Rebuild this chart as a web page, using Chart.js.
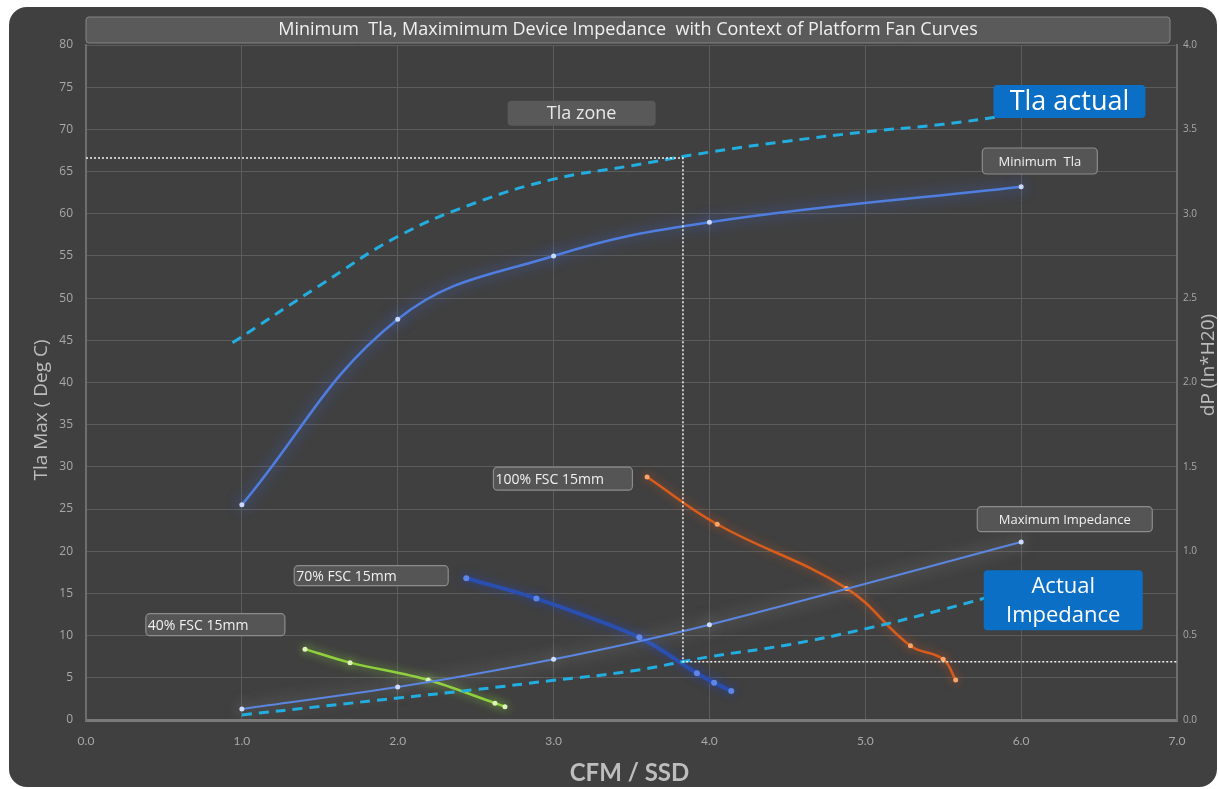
<!DOCTYPE html>
<html lang="en">
  <head>
    <meta charset="UTF-8" />
    <title>Minimum Tla, Maximum Device Impedance</title>
    <script src="https://cdn.jsdelivr.net/npm/chart.js@4.4.0/dist/chart.umd.min.js"></script>
    <style>
      html, body {
        margin: 0;
        padding: 0;
        background: #ffffff;
        overflow: hidden;
      }
      canvas {
        display: block;
      }
    </style>
  </head>
  <body>
    <canvas id="fanChart" width="1219" height="789"></canvas>
    <script>
      // --- data (x = CFM / SSD) ---
      const minTlaX = [1, 2, 3, 4, 6];
      const minTlaY = [25.5, 47.5, 55.0, 59.0, 63.2]; // deg C

      const tlaActualX = [0.94, 1.5, 2.0, 2.5, 3.0, 3.5, 4.0, 4.5, 5.0, 5.5, 5.9];
      const tlaActualY = [44.7, 51.5, 57.3, 61.3, 64.1, 65.7, 67.3, 68.6, 69.7, 70.6, 71.6];

      const maxImpX = [1, 2, 3, 4, 6];
      const maxImpY = [0.065, 0.195, 0.36, 0.565, 1.055]; // in H2O

      const actImpX = [1.0, 1.5, 2.0, 2.5, 3.0, 3.5, 4.0, 4.5, 5.0, 5.5, 5.95];
      const actImpY = [0.03, 0.08, 0.13, 0.18, 0.235, 0.29, 0.375, 0.445, 0.54, 0.655, 0.77];

      const fan100X = [3.60, 4.05, 4.88, 5.29, 5.50, 5.58];
      const fan100Y = [1.44, 1.16, 0.78, 0.44, 0.36, 0.237];

      const fan70X = [2.44, 2.89, 3.55, 3.92, 4.03, 4.14];
      const fan70Y = [0.84, 0.72, 0.49, 0.277, 0.221, 0.172];

      const fan40X = [1.405, 1.694, 2.196, 2.624, 2.688];
      const fan40Y = [0.42, 0.34, 0.237, 0.10, 0.079];

      // Tla zone boundary (dotted white)
      const zoneX = [0, 3.83, 3.83, 7];
      const zoneY = [66.6, 66.6, 6.9, 6.9];

      const xTicks = [0, 1, 2, 3, 4, 5, 6, 7];
      const chartTitle = "Minimum  Tla, Maximimum Device Impedance  with Context of Platform Fan Curves";

      const pts = (xs, ys) => xs.map((x, i) => ({ x: x, y: ys[i] }));

      const sans = "'Open Sans', 'Noto Sans', sans-serif";
      const lato = "Lato, 'Open Sans', sans-serif";

      // callout boxes, anchored in data units (left axis)
      const callouts = [
        { text: ["Tla zone"], x: 3.18, y: 71.9, w: 148, h: 25, fill: "#595959", stroke: null, size: 18, color: "#e8e8e8", align: "center" },
        { text: ["Tla actual"], x: 6.31, y: 73.3, w: 152, h: 33, fill: "#0b6fc6", stroke: null, size: 27, color: "#ffffff", align: "center" },
        { text: ["Minimum  Tla"], x: 6.12, y: 66.25, w: 115, h: 26, fill: "#555555", stroke: "#8c8c8c", size: 13, color: "#f0f0f0", align: "center" },
        { text: ["100% FSC 15mm"], x: 3.06, y: 28.6, w: 139, h: 23, fill: "#555555", stroke: "#8c8c8c", size: 14, color: "#f0f0f0", align: "left" },
        { text: ["Maximum Impedance"], x: 6.28, y: 23.8, w: 175, h: 25, fill: "#555555", stroke: "#8c8c8c", size: 13, color: "#f0f0f0", align: "center" },
        { text: ["Actual", "Impedance"], x: 6.27, y: 14.2, w: 159, h: 60, fill: "#0b6fc6", stroke: null, size: 22, color: "#ffffff", align: "center" },
        { text: ["70% FSC 15mm"], x: 1.83, y: 17.1, w: 154, h: 20, fill: "#555555", stroke: "#8c8c8c", size: 14, color: "#f0f0f0", align: "left" },
        { text: ["40% FSC 15mm"], x: 0.83, y: 11.3, w: 139, h: 22, fill: "#555555", stroke: "#8c8c8c", size: 14, color: "#f0f0f0", align: "left" },
      ];

      function roundRect(ctx, x, y, w, h, r) {
        ctx.beginPath();
        ctx.moveTo(x + r, y);
        ctx.arcTo(x + w, y, x + w, y + h, r);
        ctx.arcTo(x + w, y + h, x, y + h, r);
        ctx.arcTo(x, y + h, x, y, r);
        ctx.arcTo(x, y, x + w, y, r);
        ctx.closePath();
      }

      // dark rounded panel, title strip, axis titles
      const framePlugin = {
        id: "frame",
        beforeDraw(chart) {
          const ctx = chart.ctx;
          const area = chart.chartArea;
          ctx.save();
          ctx.fillStyle = "#ffffff";
          ctx.fillRect(0, 0, chart.width, chart.height);
          roundRect(ctx, 9, 7, chart.width - 11, chart.height - 9, 18);
          ctx.fillStyle = "#404040";
          ctx.fill();

          // title strip
          roundRect(ctx, area.left, 17, area.right - 7 - area.left, 26, 3);
          ctx.fillStyle = "#5a5a5a";
          ctx.fill();
          ctx.strokeStyle = "#858585";
          ctx.lineWidth = 1;
          ctx.stroke();
          ctx.fillStyle = "#f0f0f0";
          ctx.font = "18px " + sans;
          ctx.textAlign = "center";
          ctx.textBaseline = "middle";
          ctx.fillText(chartTitle, 628, 30);

          // axis titles
          ctx.fillStyle = "#bdbdbd";
          ctx.font = "bold 24px " + lato;
          ctx.fillText("CFM / SSD", (area.left + area.right) / 2 - 2, 773);

          ctx.font = "19px " + sans;
          ctx.save();
          ctx.translate(42, 410);
          ctx.rotate(-Math.PI / 2);
          ctx.fillText("Tla Max ( Deg C)", 0, 0);
          ctx.restore();

          ctx.save();
          ctx.translate(1209, 365);
          ctx.rotate(-Math.PI / 2);
          ctx.fillText("dP (In*H20)", 0, 0);
          ctx.restore();
          ctx.restore();
        },
        afterDatasetsDraw(chart) {
          const ctx = chart.ctx;
          const xs = chart.scales.x;
          const ys = chart.scales.y;
          ctx.save();
          callouts.forEach((c) => {
            const cx = xs.getPixelForValue(c.x);
            const cy = ys.getPixelForValue(c.y);
            const x0 = cx - c.w / 2;
            const y0 = cy - c.h / 2;
            roundRect(ctx, x0, y0, c.w, c.h, 4);
            ctx.fillStyle = c.fill;
            ctx.fill();
            if (c.stroke) {
              ctx.strokeStyle = c.stroke;
              ctx.lineWidth = 1.2;
              ctx.stroke();
            }
            ctx.fillStyle = c.color;
            ctx.font = c.size + "px " + sans;
            ctx.textBaseline = "middle";
            ctx.textAlign = c.align;
            const tx = c.align === "left" ? x0 + 2 : cx;
            const lh = c.size * 1.3;
            c.text.forEach((t, i) => {
              ctx.fillText(t, tx, cy + (i - (c.text.length - 1) / 2) * lh + 1);
            });
          });
          ctx.restore();
        },
      };

      // soft glow round each series, like the original
      const glowPlugin = {
        id: "glow",
        beforeDatasetDraw(chart, args) {
          const ds = chart.data.datasets[args.index];
          chart.ctx.save();
          if (ds.glow) {
            chart.ctx.shadowColor = ds.glowColor;
            chart.ctx.shadowBlur = ds.glow;
          }
        },
        afterDatasetDraw(chart) {
          chart.ctx.restore();
        },
      };

      const ctx = document.getElementById("fanChart").getContext("2d");

      const fanChart = new Chart(ctx, {
        type: "line",
        data: {
          datasets: [
            {
              label: "Tla zone",
              data: pts(zoneX, zoneY),
              yAxisID: "y",
              borderColor: "#f2f2f2",
              borderWidth: 1.5,
              borderDash: [2, 2],
              pointRadius: 0,
              tension: 0,
            },
            {
              label: "Tla actual",
              data: pts(tlaActualX, tlaActualY),
              yAxisID: "y",
              borderColor: "#22aee0",
              borderWidth: 3,
              borderDash: [10, 7],
              pointRadius: 0,
              tension: 0.4,
            },
            {
              label: "Actual Impedance",
              data: pts(actImpX, actImpY),
              yAxisID: "y1",
              borderColor: "#22aee0",
              borderWidth: 3,
              borderDash: [10, 7],
              pointRadius: 0,
              tension: 0.4,
            },
            {
              label: "Maximum Impedance",
              data: pts(maxImpX, maxImpY),
              yAxisID: "y1",
              borderColor: "#5b86e0",
              borderWidth: 2,
              pointRadius: 2.5,
              pointBackgroundColor: "#cfdcff",
              pointBorderWidth: 0,
              tension: 0.3,
              glow: 16,
              glowColor: "rgba(210,210,210,0.6)",
            },
            {
              label: "100% FSC 15mm",
              data: pts(fan100X, fan100Y),
              yAxisID: "y1",
              borderColor: "#d85d1c",
              borderWidth: 2.5,
              pointRadius: 2.5,
              pointBackgroundColor: "#f7a56a",
              pointBorderWidth: 0,
              tension: 0.4,
              glow: 10,
              glowColor: "rgba(210,90,30,0.7)",
            },
            {
              label: "70% FSC 15mm",
              data: pts(fan70X, fan70Y),
              yAxisID: "y1",
              borderColor: "#2a4fae",
              borderWidth: 4,
              pointRadius: 3,
              pointBackgroundColor: "#5f86e6",
              pointBorderWidth: 0,
              tension: 0.3,
              glow: 10,
              glowColor: "rgba(40,70,170,0.8)",
            },
            {
              label: "40% FSC 15mm",
              data: pts(fan40X, fan40Y),
              yAxisID: "y1",
              borderColor: "#8fd13c",
              borderWidth: 2.5,
              pointRadius: 2.5,
              pointBackgroundColor: "#dff5b8",
              pointBorderWidth: 0,
              tension: 0.3,
              glow: 10,
              glowColor: "rgba(140,210,60,0.8)",
            },
            {
              label: "Minimum Tla",
              data: pts(minTlaX, minTlaY),
              yAxisID: "y",
              borderColor: "#4f7ee0",
              borderWidth: 2.5,
              pointRadius: 2.5,
              pointBackgroundColor: "#c8d8ff",
              pointBorderWidth: 0,
              tension: 0.4,
              glow: 14,
              glowColor: "rgba(70,110,230,0.9)",
            },
          ],
        },
        options: {
          responsive: false,
          animation: false,
          devicePixelRatio: 1,
          layout: { padding: { top: 45, left: 0, right: 0, bottom: 0 } },
          plugins: {
            legend: { display: false },
            tooltip: { enabled: false },
          },
          scales: {
            x: {
              type: "linear",
              min: 0,
              max: 7,
              afterBuildTicks: (scale) => {
                scale.ticks = xTicks.map((v) => ({ value: v }));
              },
              afterFit: (scale) => {
                scale.height = 69;
              },
              ticks: {
                color: "#a8a8a8",
                font: { family: lato, size: 12 },
                padding: 14,
                callback: (v) => v.toFixed(1),
              },
              grid: {
                color: "#5c5c5c",
                lineWidth: 1,
                drawTicks: false,
              },
              border: { color: "#7a7a7a", width: 3 },
            },
            y: {
              position: "left",
              min: 0,
              max: 80,
              afterFit: (scale) => {
                scale.width = 86;
              },
              ticks: {
                stepSize: 5,
                color: "#a8a8a8",
                font: { family: sans, size: 12 },
                padding: 13,
              },
              grid: {
                color: "#5c5c5c",
                lineWidth: 1,
                drawTicks: false,
              },
              border: { color: "#6e6e6e", width: 2 },
            },
            y1: {
              position: "right",
              min: 0,
              max: 4,
              afterFit: (scale) => {
                scale.width = 42;
              },
              ticks: {
                stepSize: 0.5,
                color: "#a8a8a8",
                font: { family: sans, size: 10 },
                padding: 6,
                callback: (v) => v.toFixed(1),
              },
              grid: { display: false, drawTicks: false },
              border: { color: "#6e6e6e", width: 2 },
            },
          },
        },
        plugins: [framePlugin, glowPlugin],
      });
    </script>
  </body>
</html>
